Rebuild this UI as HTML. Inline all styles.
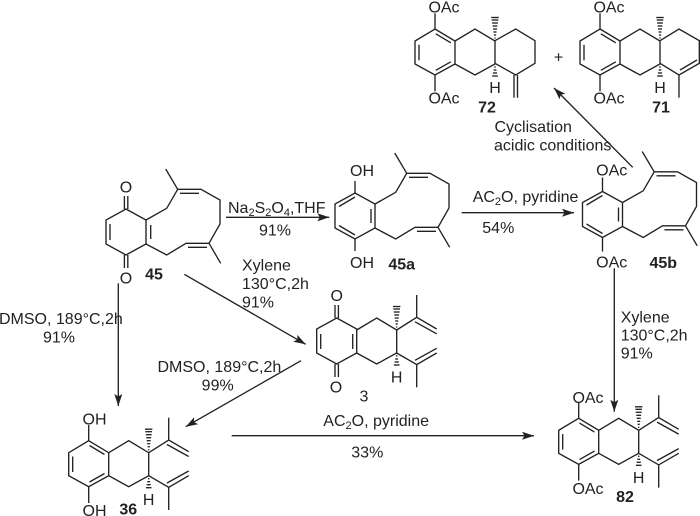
<!DOCTYPE html>
<html><head><meta charset="utf-8"><style>
html,body{margin:0;padding:0;background:#fff}
svg{display:block}
text{font-family:"Liberation Sans",sans-serif;font-size:16px;fill:#222}
.b{font-weight:bold}
.m{text-anchor:middle}
line,polyline,polygon.s{stroke:#222;stroke-width:1.35;fill:none}
</style></head><body>
<svg width="700" height="516" viewBox="0 0 700 516" xmlns="http://www.w3.org/2000/svg">
<defs>
<marker id="ah" markerUnits="userSpaceOnUse" markerWidth="14" markerHeight="10" refX="12" refY="4" orient="auto"><path d="M0 0L12 4L0 8L2.5 4Z" fill="#222"/></marker>
<g id="mac">
<polyline points="146,220 166.7,208.3 177.7,189.3 201,189.3 220,200 220,224 209,243.3 186,243.3 166.7,255 146,244"/>
<line x1="177.7" y1="189.3" x2="165.7" y2="169"/>
<line x1="209" y1="243.3" x2="220.7" y2="263.3"/>
<line x1="180" y1="193.3" x2="199" y2="193.3"/>
<line x1="188" y1="247.3" x2="207" y2="247.3"/>
</g>
<g id="hex"><polygon class="s" points="126,209 146,220 146,244 126,255 106,244 106,220"/></g>
<g id="arq">
<use href="#hex"/>
<line x1="110" y1="222.5" x2="126" y2="213"/>
<line x1="110" y1="241.5" x2="126" y2="251"/>
<line x1="142" y1="225" x2="142" y2="239"/>
</g>
<g id="hm">
<line x1="-0.6" x2="0.6" y1="-3" y2="-3"/><line x1="-1.1" x2="1.1" y1="-6" y2="-6"/>
<line x1="-1.5" x2="1.5" y1="-9" y2="-9"/><line x1="-2" x2="2" y1="-12" y2="-12"/>
<line x1="-2.4" x2="2.4" y1="-15" y2="-15"/><line x1="-2.9" x2="2.9" y1="-18" y2="-18"/>
<line x1="-3.3" x2="3.3" y1="-21" y2="-21"/><line x1="-3.7" x2="3.7" y1="-23.5" y2="-23.5"/>
</g>
<g id="hh">
<line x1="-0.7" x2="0.7" y1="3" y2="3"/><line x1="-1.4" x2="1.4" y1="6" y2="6"/>
<line x1="-2.1" x2="2.1" y1="9" y2="9"/><line x1="-2.8" x2="2.8" y1="12" y2="12"/>
</g>
<g id="ar36">
<polygon class="s" points="88.7,440.7 108.7,452.7 108.7,475.7 88.7,486.7 68.7,475.7 68.7,452.7"/>
<line x1="72.7" y1="456.5" x2="72.7" y2="472"/>
<line x1="89.5" y1="445.5" x2="104.5" y2="454.5"/>
<line x1="89.5" y1="482" x2="104.5" y2="473.5"/>
</g>
<g id="r2">
<polyline points="108.7,452.7 128.7,440.7 148.7,452.7 148.7,475.7 128.7,486.7 108.7,475.7"/>
<use href="#hm" x="148.7" y="452.7"/>
<use href="#hh" x="148.7" y="475.7"/>
</g>
<g id="iso">
<polyline points="148.7,452.7 168.7,440 188.7,451.7"/>
<line x1="168.7" y1="440" x2="168.7" y2="417.7"/>
<line x1="167" y1="444.5" x2="188.7" y2="456.5"/>
<polyline points="148.7,475.7 168.7,487.3 188.7,475.7"/>
<line x1="168.7" y1="487.3" x2="168.7" y2="510"/>
<line x1="167" y1="483" x2="188.7" y2="471"/>
</g>
</defs>

<!-- 45 -->
<g>
<use href="#hex"/>
<line x1="110" y1="224" x2="110" y2="240"/>
<line x1="150.7" y1="225" x2="150.7" y2="239"/>
<line x1="124.4" y1="196" x2="124.4" y2="209"/><line x1="127.8" y1="196" x2="127.8" y2="209"/>
<line x1="124.4" y1="255" x2="124.4" y2="268"/><line x1="127.8" y1="255" x2="127.8" y2="268"/>
<use href="#mac"/>
</g>
<text class="m" x="126" y="192.7">O</text>
<text class="m" x="126" y="283.7">O</text>
<text class="b m" x="154" y="279.7">45</text>

<!-- 45a -->
<g transform="translate(229,-16)">
<use href="#arq"/><use href="#mac"/>
<line x1="126" y1="197" x2="126" y2="209"/><line x1="126" y1="255" x2="126" y2="267"/>
</g>
<text x="350" y="176.2">OH</text>
<text x="350" y="268.2">OH</text>
<text class="b m" x="401.7" y="269.7">45a</text>

<!-- 45b -->
<g transform="translate(476.5,-17.5)">
<use href="#arq"/><use href="#mac"/>
<line x1="126" y1="195" x2="126" y2="209"/><line x1="126" y1="255" x2="126" y2="269"/>
</g>
<text class="m" x="611.7" y="175.7">OAc</text>
<text class="m" x="611.7" y="267.7">OAc</text>
<text class="b m" x="663.3" y="268.2">45b</text>

<!-- 72 -->
<g transform="translate(346.3,-411.7)">
<use href="#ar36"/><use href="#r2"/>
<line x1="88.7" y1="440.7" x2="88.7" y2="425"/><line x1="88.7" y1="486.7" x2="88.7" y2="503"/>
</g>
<polyline points="495,40.7 515.7,29 535,40.7 535,63.3 515.7,75 495,63.3"/>
<line x1="514" y1="75" x2="514" y2="97.7"/><line x1="517.5" y1="75" x2="517.5" y2="97.7"/>
<text class="m" x="444" y="12.7">OAc</text>
<text class="m" x="444" y="103.7">OAc</text>
<text class="m" x="495" y="93.2">H</text>
<text class="b m" x="487" y="112.7">72</text>
<text class="m" x="558.5" y="62.7">+</text>

<!-- 71 -->
<g transform="translate(511.3,-411.7)">
<use href="#ar36"/><use href="#r2"/>
<line x1="88.7" y1="440.7" x2="88.7" y2="425"/><line x1="88.7" y1="486.7" x2="88.7" y2="503"/>
</g>
<polyline points="660,40.7 679,29 699.3,40.7 699.3,63.3 679,75 660,63.3"/>
<line x1="680" y1="70" x2="697" y2="60"/>
<line x1="679" y1="75" x2="679" y2="97.7"/>
<text class="m" x="609" y="12.7">OAc</text>
<text class="m" x="609" y="103.7">OAc</text>
<text class="m" x="660" y="93.2">H</text>
<text class="b m" x="661" y="112.7">71</text>

<!-- 3 -->
<g>
<use href="#hex" transform="translate(210.7,109)"/>
<line x1="320.7" y1="334" x2="320.7" y2="349"/>
<line x1="352.7" y1="334" x2="352.7" y2="349"/>
<line x1="335" y1="305" x2="335" y2="318"/><line x1="338.4" y1="305" x2="338.4" y2="318"/>
<line x1="335" y1="364" x2="335" y2="377"/><line x1="338.4" y1="364" x2="338.4" y2="377"/>
</g>
<g transform="translate(248,-122.7)"><use href="#r2"/><use href="#iso"/></g>
<text class="m" x="336.7" y="301.2">O</text>
<text class="m" x="336" y="392.7">O</text>
<text class="m" x="396.7" y="382.7">H</text>
<text class="m" x="364" y="401.7">3</text>

<!-- 36 -->
<g>
<use href="#ar36"/><use href="#r2"/><use href="#iso"/>
<line x1="88.7" y1="440.7" x2="88.7" y2="425"/><line x1="88.7" y1="486.7" x2="88.7" y2="503"/>
</g>
<text x="82.5" y="424.7">OH</text>
<text x="82.5" y="516.2">OH</text>
<text class="m" x="148.7" y="505.2">H</text>
<text class="b m" x="128.3" y="514.7">36</text>

<!-- 82 -->
<g transform="translate(490,-22.4)">
<use href="#ar36"/><use href="#r2"/><use href="#iso"/>
<line x1="88.7" y1="440.7" x2="88.7" y2="425"/><line x1="88.7" y1="486.7" x2="88.7" y2="503"/>
</g>
<text class="m" x="588" y="403">OAc</text>
<text class="m" x="588" y="494.2">OAc</text>
<text class="m" x="638.7" y="483.2">H</text>
<text class="b m" x="625" y="502.2">82</text>

<!-- arrows -->
<g>
<line x1="226" y1="217.3" x2="329.3" y2="217.3" marker-end="url(#ah)"/>
<line x1="461.7" y1="212.7" x2="574" y2="212.7" marker-end="url(#ah)"/>
<line x1="184.3" y1="274.3" x2="305.7" y2="344.3" marker-end="url(#ah)"/>
<line x1="118.3" y1="283.3" x2="118.3" y2="406" marker-end="url(#ah)"/>
<line x1="301" y1="360.7" x2="185.7" y2="426.7" marker-end="url(#ah)"/>
<line x1="231.7" y1="435.7" x2="534" y2="435.7" marker-end="url(#ah)"/>
<line x1="614.3" y1="268.3" x2="614.3" y2="411.7" marker-end="url(#ah)"/>
<line x1="632.7" y1="167.3" x2="554" y2="88" marker-end="url(#ah)"/>
</g>

<!-- labels -->
<text x="228" y="213">Na<tspan font-size="11" dy="3">2</tspan><tspan dy="-3">S</tspan><tspan font-size="11" dy="3">2</tspan><tspan dy="-3">O</tspan><tspan font-size="11" dy="3">4</tspan><tspan dy="-3">,THF</tspan></text>
<text class="m" x="275" y="235.7">91%</text>
<text x="242" y="270.7">Xylene</text>
<text x="242" y="289.2">130°C,2h</text>
<text x="242" y="307.7">91%</text>
<text x="-1" y="324.2">DMSO, 189°C,2h</text>
<text class="m" x="59" y="342.7">91%</text>
<text x="157.5" y="372.2">DMSO, 189°C,2h</text>
<text class="m" x="217.7" y="390.7">99%</text>
<text x="323.3" y="426.2">AC<tspan font-size="11" dy="3">2</tspan><tspan dy="-3">O, pyridine</tspan></text>
<text class="m" x="367.3" y="457.7">33%</text>
<text x="472.7" y="202.2">AC<tspan font-size="11" dy="3">2</tspan><tspan dy="-3">O, pyridine</tspan></text>
<text class="m" x="498.3" y="233.2">54%</text>
<text x="620.7" y="322.7">Xylene</text>
<text x="620.7" y="340.7">130°C,2h</text>
<text x="620.7" y="358.7">91%</text>
<text x="494.5" y="132.2">Cyclisation</text>
<text x="494" y="150.7">acidic conditions</text>
</svg>
</body></html>
